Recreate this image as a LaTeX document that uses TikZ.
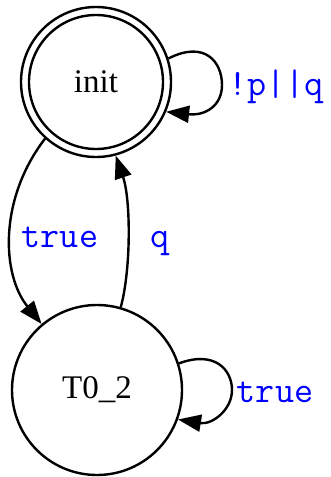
\documentclass[tikz,border=0pt]{standalone}
\usepackage{fontspec}
\setmainfont{Liberation Serif}
\usetikzlibrary{arrows.meta}
\begin{document}
\begin{tikzpicture}[x=1pt,y=-1pt,line width=2.4pt,
  state/.style={circle,draw,line width=2.4pt,inner sep=0pt,font=\fontsize{33}{36}\selectfont},
  lbl/.style={text=blue,anchor=base,inner sep=0pt,font=\ttfamily\fontsize{37}{40}\selectfont},
  edge/.style={-{Triangle[length=23pt,width=17pt]}}]
\useasboundingbox (0,0) rectangle (331,477);
\node[state,minimum size=150pt] (init) at (96,82) {init};
\draw (init.center) circle[radius=67pt];
\node[state,minimum size=170pt] (t02) at (97,390) {T0\_2};
% self loop init
\draw[edge] (init.18) .. controls (205,40) and (222,62) .. (222,85)
  .. controls (222,106) and (205,116) .. (init.-23);
\node[lbl] (l1) at (276,95) {!p||q};
% init -> T0_2
\draw[edge] (init.228) .. controls (-2,200) and (2,275) .. (t02.130);
\node[lbl] (l2) at (60,247) {true};
% T0_2 -> init
\draw[edge] (t02.74) .. controls (131,270) and (131,200) .. (init.285);
\node[lbl] (l3) at (160,247) {q};
% self loop T0_2
\draw[edge] (t02.18) .. controls (215,350) and (232,370) .. (232,390)
  .. controls (232,410) and (212,425) .. (t02.-20);
\node[lbl] (l4) at (275,402) {true};
\end{tikzpicture}
\end{document}
